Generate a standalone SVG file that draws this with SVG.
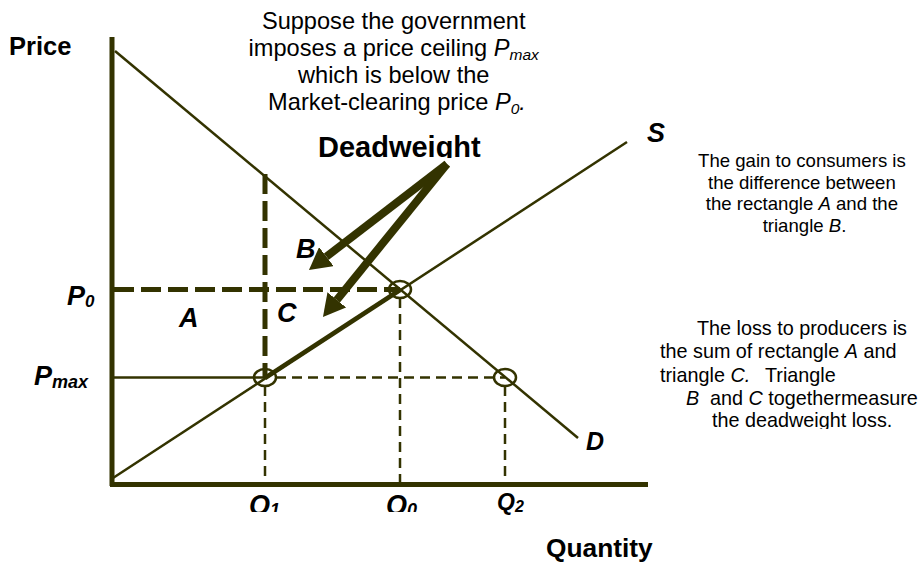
<svg xmlns="http://www.w3.org/2000/svg" width="922" height="571" viewBox="0 0 922 571">
<style>
.ax{stroke:#333300;stroke-width:5;fill:none}
.ln{stroke:#333300;stroke-width:2.5;fill:none}
.thick{stroke:#333300;stroke-width:4.5;fill:none}
.tdash{stroke:#333300;stroke-width:5;fill:none;stroke-dasharray:20 7}
.dash{stroke:#333300;stroke-width:2.5;fill:none;stroke-dasharray:10 6}
.circ{stroke:#333300;stroke-width:2.5;fill:none}
.arr{stroke:#333300;stroke-width:8;fill:none;marker-end:url(#ah)}
.t{font-family:"Liberation Sans",Arial,sans-serif;fill:#000}
.b{font-weight:bold}
.bi{font-weight:bold;font-style:italic}
.i{font-style:italic}
</style>
<defs>
<marker id="ah" viewBox="0 0 22 24" refX="0" refY="12" markerWidth="22" markerHeight="24" markerUnits="userSpaceOnUse" orient="auto">
<path d="M0,0 L22,12 L0,24 z" fill="#333300"/>
</marker>
<clipPath id="clipQ"><rect x="0" y="0" width="922" height="512"/></clipPath>
<clipPath id="clipDW"><rect x="0" y="0" width="922" height="158"/></clipPath>
<clipPath id="clipLoss"><rect x="0" y="0" width="922" height="429"/></clipPath>
</defs>

<g id="connectors">
<line class="ax" x1="112" y1="37" x2="112" y2="486"/>
<line class="ax" x1="110" y1="484.5" x2="648" y2="484.5"/>
<line class="ln" x1="115" y1="51" x2="578" y2="438"/>
<line class="ln" x1="113" y1="478" x2="627" y2="142"/>
<line class="thick" x1="265" y1="378" x2="400" y2="290"/>
<line class="tdash" x1="114" y1="289.5" x2="400" y2="289.5"/>
<line class="tdash" x1="265" y1="174" x2="265" y2="377"/>
<line class="ln" x1="114" y1="377.5" x2="265" y2="377.5"/>
<line class="dash" x1="276" y1="377.5" x2="505" y2="377.5"/>
<line class="dash" x1="265" y1="386" x2="265" y2="482"/>
<line class="dash" x1="400" y1="298" x2="400" y2="482"/>
<line class="dash" x1="505" y1="386" x2="505" y2="482"/>
<line class="arr" x1="447" y1="164" x2="326.4" y2="256.6"/>
<line class="arr" x1="447" y1="164" x2="336.8" y2="299.9"/>
</g>

<g id="eq0"><ellipse class="circ" cx="400" cy="289.5" rx="11" ry="8.5"/></g>
<g id="eq1"><ellipse class="circ" cx="265" cy="377.5" rx="11" ry="8.5"/></g>
<g id="eq2"><ellipse class="circ" cx="505" cy="377.5" rx="11" ry="8.5"/></g>

<g id="title">
<text class="t" font-size="23.6" text-anchor="middle">
<tspan x="397" y="29">Suppose the government</tspan>
<tspan x="397" y="56">imposes a price ceiling <tspan class="i">P</tspan><tspan class="i" font-size="15.5" dy="4">max</tspan></tspan>
<tspan x="397" y="83">which is below the</tspan>
<tspan x="397" y="110">Market-clearing price <tspan class="i">P</tspan><tspan class="i" font-size="15.5" dy="4">0</tspan><tspan class="i" dy="-4">.</tspan></tspan>
</text>
</g>

<g id="deadweight" clip-path="url(#clipDW)">
<text class="t b" font-size="29" x="318" y="157">Deadweight</text>
</g>

<g id="price-label"><text class="t b" font-size="25.5" x="9" y="55">Price</text></g>
<g id="quantity-label"><text class="t b" font-size="26.3" x="546" y="557">Quantity</text></g>

<g id="S-label"><text class="t bi" font-size="27" x="647" y="142">S</text></g>
<g id="D-label"><text class="t bi" font-size="25" x="586" y="450">D</text></g>
<g id="B-label"><text class="t bi" font-size="27" x="296" y="258">B</text></g>
<g id="C-label"><text class="t bi" font-size="27" x="277" y="322">C</text></g>
<g id="A-label"><text class="t bi" font-size="27" x="179" y="327">A</text></g>

<g id="P0-label"><text class="t bi" font-size="27" x="67" y="305">P<tspan font-size="17" dy="2">0</tspan></text></g>
<g id="Pmax-label"><text class="t bi" font-size="27" x="34" y="385">P<tspan font-size="18" dy="3">max</tspan></text></g>

<g id="Q-labels" clip-path="url(#clipQ)">
<text class="t bi" font-size="27" x="249" y="514">Q<tspan font-size="18" dy="2">1</tspan></text>
<text class="t bi" font-size="27" x="386" y="514">Q<tspan font-size="18" dy="2">0</tspan></text>
</g>
<g id="Q2-label"><text class="t bi" font-size="23" x="497" y="510">Q<tspan font-size="16" dy="2">2</tspan></text></g>

<g id="gain-note">
<text class="t" font-size="18.6" text-anchor="middle">
<tspan x="804.5" y="167">The gain to consumers is</tspan>
<tspan x="804.5" y="189">the difference between</tspan>
<tspan x="804.5" y="210">the rectangle <tspan class="i">A</tspan> and the</tspan>
<tspan x="804.5" y="232">triangle <tspan class="i">B</tspan>.</tspan>
</text>
</g>

<g id="loss-note" clip-path="url(#clipLoss)">
<text class="t" font-size="19.8">
<tspan x="697" y="335">The loss to producers is</tspan>
<tspan x="660" y="358">the sum of rectangle <tspan class="i">A</tspan> and</tspan>
<tspan x="660" y="382">triangle <tspan class="i">C.</tspan></tspan><tspan x="765" y="382">Triangle</tspan>
<tspan x="686" y="405" class="i">B</tspan><tspan x="710" y="405">and </tspan><tspan class="i">C</tspan><tspan> togethermeasure</tspan>
<tspan x="712" y="427">the deadweight loss.</tspan>
</text>
</g>
</svg>
